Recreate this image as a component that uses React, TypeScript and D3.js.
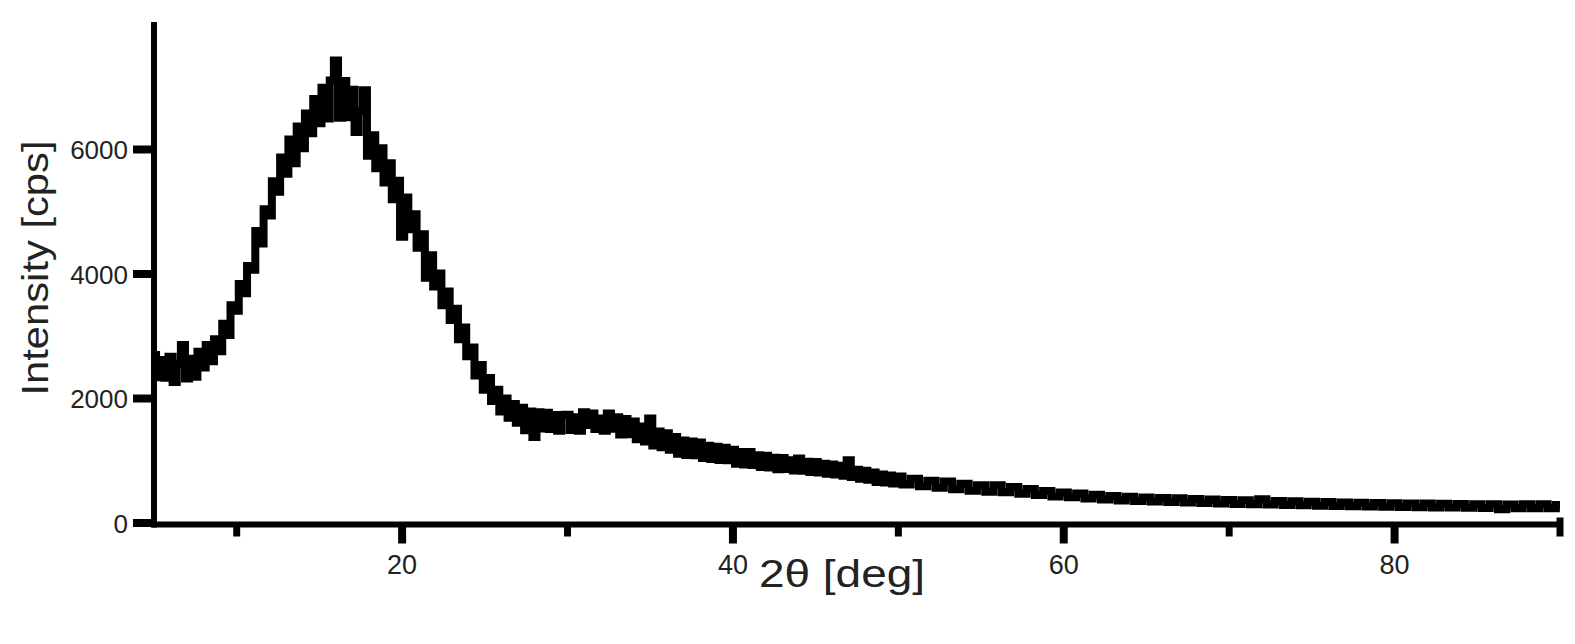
import * as d3 from "d3";

// XRD scan, 2θ 5.00–49.75 in 0.25° steps (cps)
const scanLow = [
  2700, 2340, 2620, 2335, 2670, 2265, 2560, 2860, 2320, 2640,
  2350, 2750, 2500, 2860, 2600, 2950, 2760, 3200, 3020, 3500,
  3410, 3840, 3690, 4130, 4070, 4690, 4490, 5040, 4940, 5490,
  5320, 5870, 5610, 6160, 5780, 6370, 6020, 6580, 6260, 6810,
  6420, 6990, 6500, 7110, 7430, 6510, 7100, 6520, 6960, 6280,
  6620, 6950, 5900, 6230, 5700, 6020, 5470, 5780, 5200, 5500,
  4600, 5230, 4720, 4960, 4420, 4640, 3940, 4300, 3800, 4010,
  3500, 3720, 3260, 3440, 2950, 3140, 2680, 2820, 2370, 2540,
  2140, 2330, 1960, 2140, 1790, 2000, 1690, 1910, 1610, 1850,
  1490, 1790, 1380, 1780, 1520, 1770, 1510, 1735, 1480, 1735,
  1740, 1495, 1700, 1480, 1780, 1575, 1760, 1512, 1680, 1480,
  1760, 1515, 1700, 1420, 1670, 1425, 1630, 1345, 1550, 1310,
  1680, 1245, 1470, 1215, 1440, 1175, 1380, 1113, 1325, 1092,
  1310, 1088, 1295, 1043, 1240, 1028, 1225, 1013, 1210, 1008,
  1175, 953, 1140, 940, 1140, 930, 1090, 900, 1080, 890,
  1050, 862, 1045, 868, 1010, 842, 1035, 840, 985, 818,
  980, 810, 950, 790, 940, 780, 920, 760, 1010, 738,
  855, 712, 840, 695, 810, 660, 780, 650, 765, 635,
];

// 2θ 50.0–90.0 in 0.5° steps (cps)
const scanHigh = [
  745, 620, 710, 590, 680, 567, 665, 542, 630, 520,
  605, 502, 605, 492, 580, 470, 545, 448, 515, 425,
  490, 413, 475, 395, 455, 377, 435, 363, 420, 355,
  410, 345, 400, 336, 397, 328, 385, 321, 378, 314,
  370, 307, 365, 302, 380, 297, 355, 291, 348, 285,
  342, 279, 336, 273, 330, 268, 326, 264, 322, 260,
  318, 256, 315, 253, 312, 250, 309, 247, 306, 244,
  303, 241, 300, 219, 298, 238, 302, 237, 302, 237,
  288,
];

const xMajorTicks = [20, 40, 60, 80];
const xMinorTicks = [10, 30, 50, 70, 90];
const yTicks = [0, 2000, 4000, 6000];

const points = [
  ...scanLow.map((v, i) => ({ t: 5 + i * 0.25, v })),
  ...scanHigh.map((v, i) => ({ t: 50 + i * 0.5, v })),
];

const W = 1575;
const H = 644;
const font = "'Liberation Sans', Arial, Helvetica, sans-serif";

export default function App() {
  const x = d3.scaleLinear().domain([5, 90]).range([154, 1560]);
  const y = d3.scaleLinear().domain([0, 8000]).range([523, 25]);

  const line = d3
    .line<{ t: number; v: number }>()
    .x((d) => x(d.t))
    .y((d) => y(d.v))
    .curve(d3.curveStep);

  const axisY = y(0) + 1.5;
  const axisX = x(5);

  return (
    <svg
      width={W}
      height={H}
      style={{ position: "absolute", left: 0, top: 0, background: "#fff" }}
    >
      {/* data */}
      <path
        d={line(points) || ""}
        fill="none"
        stroke="#000"
        strokeWidth={8}
        strokeLinejoin="miter"
      />

      {/* axes */}
      <line x1={axisX} x2={axisX} y1={22} y2={axisY + 3} stroke="#000" strokeWidth={6} />
      <line x1={axisX - 3} x2={x(90) + 1} y1={axisY} y2={axisY} stroke="#000" strokeWidth={6} />

      {yTicks.map((t) => (
        <g key={t}>
          <line x1={133} x2={axisX} y1={y(t)} y2={y(t)} stroke="#000" strokeWidth={8} />
          <text
            x={128}
            y={y(t) + 9.5}
            textAnchor="end"
            fontFamily={font}
            fontSize={26}
            fill="#222"
          >
            {t}
          </text>
        </g>
      ))}

      {xMinorTicks.map((t) => (
        <line
          key={t}
          x1={x(t)}
          x2={x(t)}
          y1={t === 90 ? axisY - 7 : axisY}
          y2={axisY + 12}
          stroke="#000"
          strokeWidth={7}
        />
      ))}
      {xMajorTicks.map((t) => (
        <g key={t}>
          <line x1={x(t)} x2={x(t)} y1={axisY} y2={axisY + 19} stroke="#000" strokeWidth={8} />
          <text
            x={x(t)}
            y={574}
            textAnchor="middle"
            fontFamily={font}
            fontSize={27}
            fill="#222"
          >
            {t}
          </text>
        </g>
      ))}

      {/* axis titles */}
      <text
        x={842}
        y={587}
        textAnchor="middle"
        fontFamily={font}
        fontSize={38}
        textLength={166}
        lengthAdjust="spacingAndGlyphs"
        fill="#222"
      >
        2θ [deg]
      </text>
      <text
        transform="translate(48,268) rotate(-90)"
        textAnchor="middle"
        fontFamily={font}
        fontSize={37}
        textLength={255}
        lengthAdjust="spacingAndGlyphs"
        fill="#222"
      >
        Intensity [cps]
      </text>
    </svg>
  );
}
